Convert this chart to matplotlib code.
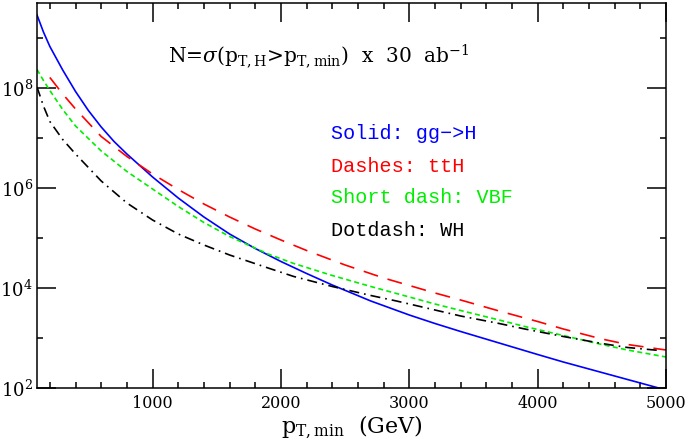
import matplotlib
matplotlib.use("Agg")
import matplotlib.pyplot as plt
from matplotlib.ticker import FixedLocator, FuncFormatter, MultipleLocator
import numpy as np

# ---- data (log10 of N) ----
pt_gg = [100, 150, 200, 300, 400, 500, 600, 700, 800, 1000, 1200, 1400, 1600, 1800, 2000, 2200, 2400, 2700,
         3000, 3200, 3400, 3700, 4000, 4200, 4500, 4700, 4900, 5000]
log_gg = [9.46, 9.12, 8.83, 8.36, 7.93, 7.55, 7.22, 6.93, 6.68, 6.22, 5.80, 5.42, 5.08, 4.79, 4.53, 4.29, 4.06, 3.74,
          3.46, 3.29, 3.13, 2.90, 2.67, 2.52, 2.31, 2.17, 2.03, 1.96]

pt_tth = [200, 300, 400, 600, 800, 1000, 1200, 1400, 1600, 1800, 2000, 2200, 2500, 2800,
          3200, 3400, 3700, 4000, 4200, 4500, 4700, 5000]
log_tth = [8.21, 7.88, 7.58, 7.03, 6.63, 6.28, 5.97, 5.68, 5.42, 5.18, 4.96, 4.75, 4.46, 4.20,
           3.90, 3.76, 3.54, 3.33, 3.18, 2.98, 2.87, 2.76]

pt_vbf = [100, 150, 200, 300, 400, 600, 800, 1000, 1200, 1400, 1600, 1900, 2100, 2400, 2700,
          2900, 3200, 3400, 3700, 3900, 4200, 4500, 4700, 5000]
log_vbf = [8.37, 8.15, 7.95, 7.57, 7.24, 6.74, 6.33, 5.98, 5.63, 5.31, 5.03, 4.68, 4.49, 4.25, 4.03,
           3.89, 3.68, 3.55, 3.36, 3.23, 3.05, 2.87, 2.76, 2.62]

pt_wh = [100, 150, 200, 300, 400, 600, 800, 1000, 1200, 1400, 1600, 1900, 2100, 2400, 2700,
         2900, 3200, 3400, 3700, 3900, 4200, 4500, 4700, 4950]
log_wh = [8.02, 7.64, 7.33, 6.97, 6.68, 6.14, 5.70, 5.36, 5.08, 4.86, 4.66, 4.40, 4.23, 4.03, 3.85,
          3.74, 3.56, 3.44, 3.29, 3.18, 3.03, 2.89, 2.81, 2.75]

legend_texts = ["Solid: gg\u2212>H", "Dashes: ttH", "Short dash: VBF", "Dotdash: WH"]
legend_colors = ["#0000ff", "#ff0000", "#00ee00", "#000000"]

plt.rcParams['font.family'] = ['DejaVu Serif']
plt.rcParams['mathtext.fontset'] = 'dejavuserif'

fig = plt.figure(figsize=(6.85, 4.46), dpi=100)
ax = fig.add_axes([37/685, 1 - 388/446, (666-37)/685, (388-3)/446])

lw = 1.2
ax.plot(pt_gg, 10**np.array(log_gg), color="#0000ff", lw=lw, ls='-')
ax.plot(pt_tth, 10**np.array(log_tth), color="#ff0000", lw=lw, ls=(0, (9, 6)))
ax.plot(pt_vbf, 10**np.array(log_vbf), color="#00ee00", lw=lw, ls=(0, (3, 2)))
ax.plot(pt_wh, 10**np.array(log_wh), color="#000000", lw=lw, ls=(0, (6, 3, 1, 3)))

ax.set_yscale('log')
ax.set_xlim(100, 5000)
ax.set_ylim(1e2, 5e9)

ax.xaxis.set_major_locator(FixedLocator([1000, 2000, 3000, 4000, 5000]))
ax.xaxis.set_minor_locator(MultipleLocator(200))
ax.yaxis.set_major_locator(FixedLocator([1e2, 1e4, 1e6, 1e8]))
ax.yaxis.set_minor_locator(FixedLocator([1e3, 1e5, 1e7, 1e9]))
ax.yaxis.set_major_formatter(FuncFormatter(lambda v, p: r"$10^{%d}$" % round(np.log10(v))))
ax.yaxis.set_minor_formatter(FuncFormatter(lambda v, p: ""))

ax.tick_params(which='both', direction='in', top=True, right=True, width=1.1)
ax.tick_params(which='major', length=13.5)
ax.tick_params(which='minor', length=4.3)
ax.tick_params(axis='x', labelsize=11.5, pad=5)
ax.tick_params(axis='y', labelsize=13, pad=3)
for s in ax.spines.values():
    s.set_linewidth(1.1)

ax.set_xlabel(r"p$_{\rm T,min}$  (GeV)", fontsize=16, labelpad=1)

fig.text(168/685, 1 - 62/446,
         r"N=$\sigma$(p$_{\rm T,H}$>p$_{\rm T,min}$)  x  30  ab$^{-1}$",
         fontsize=14.5, ha='left', va='baseline')

baselines = [139, 172, 203, 236]
for t, c, b in zip(legend_texts, legend_colors, baselines):
    fig.text(331/685, 1 - b/446, t, color=c, fontsize=14.5,
             family=['Liberation Mono', 'DejaVu Sans Mono'], ha='left', va='baseline')

fig.savefig("out.png", dpi=100)
